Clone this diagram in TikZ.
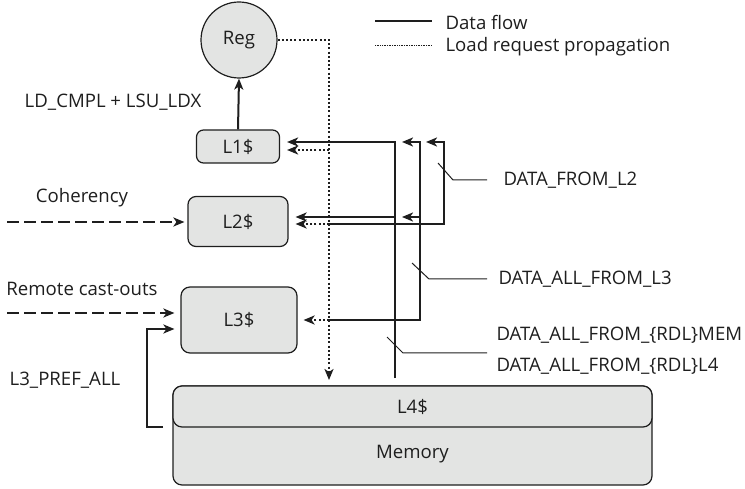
\documentclass[tikz,border=0pt]{standalone}
\usepackage{fontspec}
\setmainfont{Open Sans}
\usetikzlibrary{arrows.meta}
\definecolor{boxfill}{RGB}{227,228,227}
\definecolor{ink}{RGB}{30,30,30}
\begin{document}
\begin{tikzpicture}[x=1pt,y=-1pt,
  every node/.style={font=\fontsize{18.6}{22}\selectfont, text=ink},
  box/.style={draw=ink, line width=1.2pt, fill=boxfill, rounded corners=7pt, inner sep=0pt},
  data/.style={draw=ink, line width=2pt},
  req/.style={draw=ink, line width=2pt, dash pattern=on 2pt off 2.2pt},
  dsh/.style={draw=ink, line width=2pt, dash pattern=on 12pt off 5pt},
  leader/.style={draw=ink, line width=1pt},
  >={Stealth[length=11pt,width=9pt,inset=3pt]}]
\useasboundingbox (0,0) rectangle (745,489);

% nodes
\node[box, circle, rounded corners=0pt, minimum size=76pt] (reg) at (239,40) {Reg};
\node[box, minimum width=83pt, minimum height=33pt] (l1) at (238,146.5) {L1\$};
\node[box, minimum width=100pt, minimum height=50pt, rounded corners=8pt] (l2) at (238,221.5) {L2\$};
\node[box, minimum width=116pt, minimum height=66pt, rounded corners=9pt] (l3) at (239,320) {L3\$};
\node[box, minimum width=479pt, minimum height=99pt, rounded corners=9pt] (mem) at (412.5,435.5) {};
\node[box, minimum width=479pt, minimum height=41pt, rounded corners=9pt] (l4) at (412.5,406.5) {L4\$};
\node (memt) at (412.5,454) {Memory};

% labels
\node (ldl) at (113,102) {LD\_CMPL + LSU\_LDX};
\node (cohl) at (82,198) {Coherency};
\node (rcl) at (82,289) {Remote cast-outs};
\node (pfl) at (65,380) {L3\_PREF\_ALL};
\node[anchor=west] (ld2) at (500,180) {DATA\_FROM\_L2};
\node[anchor=west] (ld3) at (495,279) {DATA\_ALL\_FROM\_L3};
\node[anchor=west] (ldm) at (493,335) {DATA\_ALL\_FROM\_\{RDL\}MEM};
\node[anchor=west] (ld4) at (493,366) {DATA\_ALL\_FROM\_\{RDL\}L4};
\node[anchor=west] (lgd) at (442,22) {Data flow};
\node[anchor=west] (lgr) at (442,47) {Load request propagation};

% coordinates
\coordinate (m4) at (395,378);
\coordinate (r4) at (329,380);
\coordinate (j1) at (329,150);
\coordinate (j2) at (329,224);
\coordinate (j3) at (329,320);
\coordinate (c3) at (420,320);
\coordinate (t3a) at (402,142);
\coordinate (t3b) at (402,217);
\coordinate (c2) at (444,224);
\coordinate (t2) at (426,142);
\coordinate (cohs) at (7,222);
\coordinate (rcs) at (7,313);
\coordinate (pf) at (163,427);
\coordinate (pfc) at (147,329);
\coordinate (k2) at (438,163);
\coordinate (k2b) at (453,180);
\coordinate (k3) at (412,263);
\coordinate (k3b) at (429,279);
\coordinate (k4) at (387,337);
\coordinate (k4b) at (403,353);
\coordinate (k4c) at (487,353);

% L1 -> Reg
\draw[data,->] (l1.north) -- (reg.south);

% data flow lines
\draw[data,->,shorten >=7pt] (m4) |- ([yshift=4.5pt]l1.east);
\draw[data,->,shorten >=7pt] ([yshift=4.5pt]l2.east -| m4) -- ([yshift=4.5pt]l2.east);
\draw[data,->] (j3) -- (c3) |- (t3a);
\draw[data,->] (t3b -| c3) -- (t3b);
\draw[data,->] (j2) -- (c2) |- (t2);

% load request propagation
\draw[req,->] (reg.east) -| (r4);
\draw[req,->,shorten >=7pt] (j1) -- (j1 -| l1.east);
\draw[req,->,shorten >=7pt] (j2) -- (j2 -| l2.east);
\draw[req,->,shorten >=6pt] (j3) -- (j3 -| l3.east);

% left inputs
\draw[dsh,->,shorten >=3pt] (cohs) -- (cohs -| l2.west);
\draw[dsh,->,shorten >=6pt] (rcs) -- (rcs -| l3.west);
\draw[data,->,shorten >=6pt] (pf) -| (pfc) -- (pfc -| l3.west);

% leaders
\draw[leader] (k2) -- (k2b) -- ([xshift=-13pt]ld2.west);
\draw[leader] (k3) -- (k3b) -- ([xshift=-8pt]ld3.west);
\draw[leader] (k4) -- (k4b) -- (k4c);

% legend
\draw[draw=ink, line width=1.3pt] ([xshift=-67pt,yshift=1pt]lgd.west) -- ([xshift=-10pt,yshift=1pt]lgd.west);
\draw[draw=ink, line width=1pt, dash pattern=on 0.8pt off 0.9pt] ([xshift=-67pt,yshift=1pt]lgr.west) -- ([xshift=-10pt,yshift=1pt]lgr.west);
\end{tikzpicture}
\end{document}
